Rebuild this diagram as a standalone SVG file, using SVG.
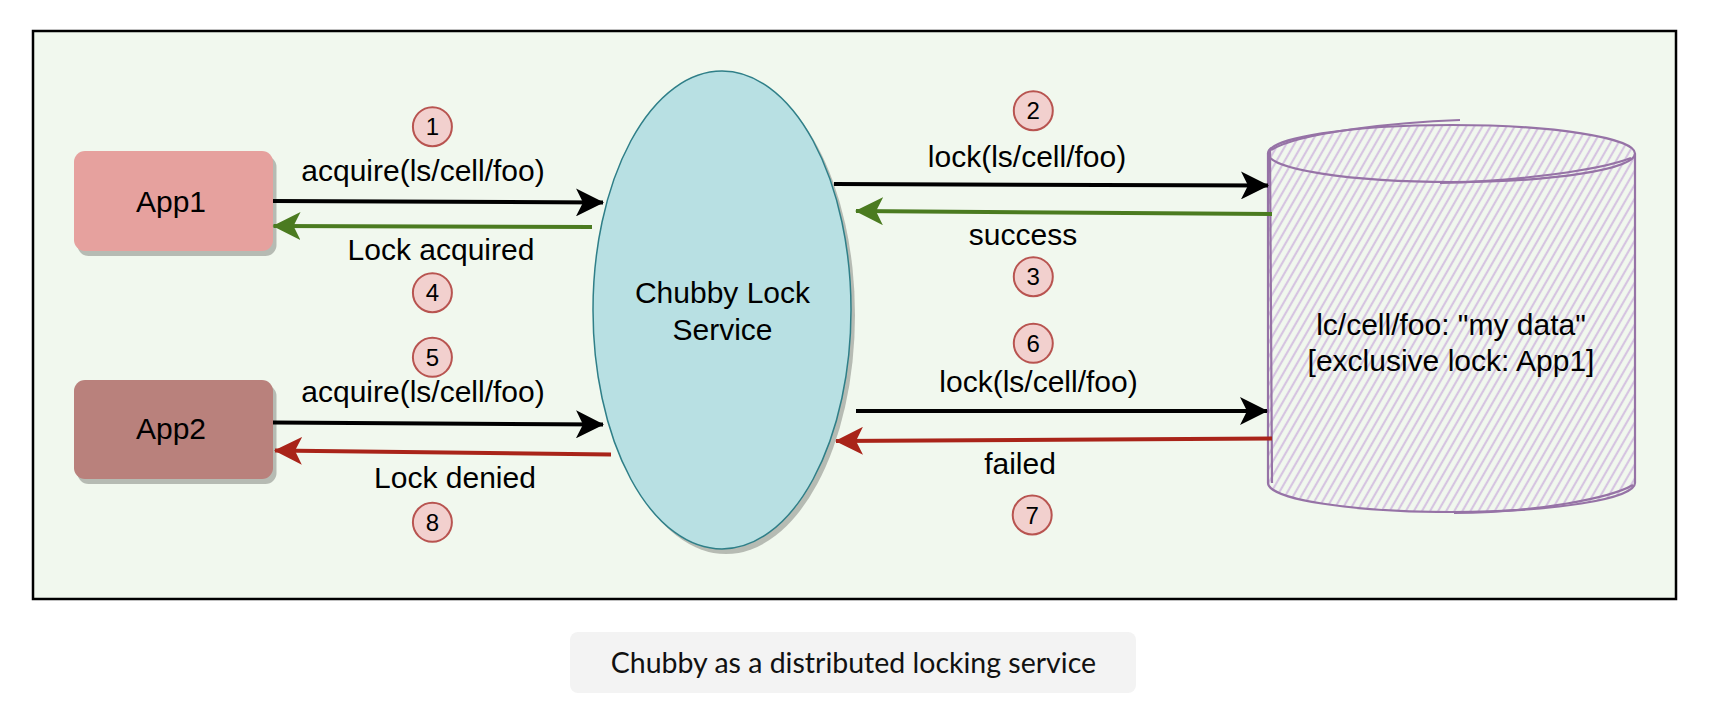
<svg xmlns="http://www.w3.org/2000/svg" width="1710" height="718" viewBox="0 0 1710 718">
<defs>
<style>
.lbl{font-family:"Liberation Sans",Arial,Helvetica,sans-serif;font-size:30px;fill:#000;text-anchor:middle}
.num{font-family:"Liberation Sans",Arial,Helvetica,sans-serif;font-size:24px;fill:#000;text-anchor:middle}
.badge{fill:#f2d0ce;stroke:#b85450;stroke-width:2}
.shadow{fill:#b6bbb3}
.blk{stroke:#000;stroke-width:4;fill:none}
.grn{stroke:#4b7b20;stroke-width:4;fill:none}
.red{stroke:#a92419;stroke-width:4;fill:none}
.cyl{fill:none;stroke:#9673a6;stroke-width:2.2}
</style>
<marker id="aBlk" viewBox="0 0 28 28" refX="27" refY="14" markerWidth="28" markerHeight="28" markerUnits="userSpaceOnUse" orient="auto"><path d="M0,0 L28,14 L0,28 L7,14 Z" fill="#000"/></marker>
<marker id="aGrn" viewBox="0 0 28 28" refX="27" refY="14" markerWidth="28" markerHeight="28" markerUnits="userSpaceOnUse" orient="auto"><path d="M0,0 L28,14 L0,28 L7,14 Z" fill="#4b7b20"/></marker>
<marker id="aRed" viewBox="0 0 28 28" refX="27" refY="14" markerWidth="28" markerHeight="28" markerUnits="userSpaceOnUse" orient="auto"><path d="M0,0 L28,14 L0,28 L7,14 Z" fill="#a92419"/></marker>
<pattern id="hach" patternUnits="userSpaceOnUse" width="7" height="20" patternTransform="rotate(30)">
<line x1="3" y1="0" x2="3" y2="20" stroke="#d6c4e1" stroke-width="2.2"/>
</pattern>
<clipPath id="cylClip"><path d="M1268,153.5 A183.5,28.5 0 0 1 1635,153.5 L1635,483 A183.5,29 0 0 1 1268,483 Z"/></clipPath>
</defs>
<rect width="1710" height="718" fill="#fff"/>
<g id="frame">
<rect x="33" y="31" width="1643" height="568" fill="#f1f8ee" stroke="#000" stroke-width="2.5"/>
</g>
<g id="app1">
<rect class="shadow" x="77.5" y="156" width="199" height="100" rx="11"/>
<rect x="74" y="151" width="199" height="100" rx="11" fill="#e6a19e"/>
<text class="lbl" x="171" y="212">App1</text>
</g>
<g id="app2">
<rect class="shadow" x="77.5" y="385" width="199" height="99" rx="11"/>
<rect x="74" y="380" width="199" height="99" rx="11" fill="#b9817c"/>
<text class="lbl" x="171" y="439">App2</text>
</g>
<g id="chubby">
<ellipse class="shadow" cx="726" cy="315" rx="129" ry="239"/>
<ellipse cx="722" cy="310" rx="129" ry="239" fill="#b8e0e3" stroke="#2f7f88" stroke-width="1.5"/>
<text class="lbl" x="722.5" y="303">Chubby Lock</text>
<text class="lbl" x="722.5" y="339.5">Service</text>
</g>
<g id="store">
<rect x="1260" y="110" width="390" height="420" fill="url(#hach)" clip-path="url(#cylClip)"/>
<path class="cyl" d="M1268,153.5 A183.5,28.5 0 0 1 1635,153.5 L1635,483 A183.5,29 0 0 1 1268,483 Z"/>
<path class="cyl" d="M1268,153.5 A183.5,28.5 0 0 0 1635,153.5"/>
<path class="cyl" stroke-width="1.5" d="M1271,150 C1300,132 1400,122 1460,120"/>
<path class="cyl" stroke-width="1.5" d="M1440,183 C1520,181 1600,170 1631,158"/>
<path class="cyl" stroke-width="1.5" d="M1270,150 L1272,483"/>
<path class="cyl" stroke-width="1.5" d="M1454,513 C1540,512 1610,498 1633,485"/>
<text class="lbl" x="1451" y="335">lc/cell/foo: "my data"</text>
<text class="lbl" x="1451" y="371">[exclusive lock: App1]</text>
</g>
<g id="connectors">
<path class="blk" d="M273,201 L603,202.5" marker-end="url(#aBlk)"/>
<path class="grn" d="M592,227 L273.5,226" marker-end="url(#aGrn)"/>
<path class="blk" d="M834,184 L1268,185.5" marker-end="url(#aBlk)"/>
<path class="grn" d="M1272,214 L856,211" marker-end="url(#aGrn)"/>
<path class="blk" d="M273,422.5 L603,424.5" marker-end="url(#aBlk)"/>
<path class="red" d="M611,454.5 L275,450.5" marker-end="url(#aRed)"/>
<path class="blk" d="M856,411 L1267,411" marker-end="url(#aBlk)"/>
<path class="red" d="M1272,438.5 L836,441" marker-end="url(#aRed)"/>
<text class="lbl" x="423" y="181">acquire(ls/cell/foo)</text>
<text class="lbl" x="441" y="260">Lock acquired</text>
<text class="lbl" x="423" y="402">acquire(ls/cell/foo)</text>
<text class="lbl" x="455" y="488">Lock denied</text>
<text class="lbl" x="1027" y="167">lock(ls/cell/foo)</text>
<text class="lbl" x="1023" y="245">success</text>
<text class="lbl" x="1038.5" y="392">lock(ls/cell/foo)</text>
<text class="lbl" x="1020" y="474">failed</text>
</g>
<g id="badge1"><circle class="badge" cx="432.4" cy="126.7" r="19.5"/><text class="num" x="432.4" y="135.2">1</text></g>
<g id="badge2"><circle class="badge" cx="1033.3" cy="110.7" r="19.5"/><text class="num" x="1033.3" y="119.2">2</text></g>
<g id="badge3"><circle class="badge" cx="1033.3" cy="276.7" r="19.5"/><text class="num" x="1033.3" y="285.2">3</text></g>
<g id="badge4"><circle class="badge" cx="432.4" cy="292.7" r="19.5"/><text class="num" x="432.4" y="301.2">4</text></g>
<g id="badge5"><circle class="badge" cx="432.4" cy="357.3" r="19.5"/><text class="num" x="432.4" y="365.8">5</text></g>
<g id="badge6"><circle class="badge" cx="1033.3" cy="343.3" r="19.5"/><text class="num" x="1033.3" y="351.8">6</text></g>
<g id="badge7"><circle class="badge" cx="1032.2" cy="515" r="19.5"/><text class="num" x="1032.2" y="523.5">7</text></g>
<g id="badge8"><circle class="badge" cx="432.4" cy="522.3" r="19.5"/><text class="num" x="432.4" y="530.8">8</text></g>
<g id="caption">
<rect x="570" y="632" width="566" height="61" rx="8" fill="#f3f3f3"/>
<text x="853.4" y="672.5" font-family="Lato,'Open Sans',sans-serif" font-size="28.5" text-anchor="middle" fill="#111">Chubby as a distributed locking service</text>
</g>
</svg>
